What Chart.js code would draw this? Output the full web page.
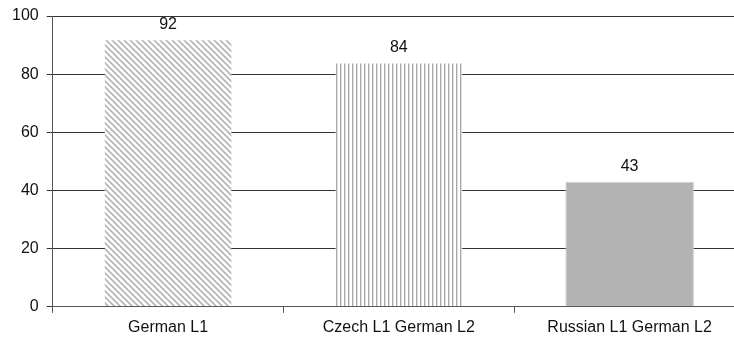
<!DOCTYPE html>
<html>
<head>
<meta charset="utf-8">
<script src="https://cdn.jsdelivr.net/npm/chart.js@4"></script>
<style>
  html,body{margin:0;padding:0;background:#fff;overflow:hidden;}
  #wrap{width:745px;height:344px;position:relative;}
</style>
</head>
<body>
<div id="wrap"><canvas id="c"></canvas></div>
<script>
// data
const categories = ["German L1", "Czech L1 German L2", "Russian L1 German L2"];
const values = [92, 84, 43];
const yTicks = [0, 20, 40, 60, 80, 100];

// hatch fills
function diagPattern(){
  const t = document.createElement('canvas'); t.width = 6; t.height = 6;
  const g = t.getContext('2d');
  g.fillStyle = '#fff'; g.fillRect(0,0,6,6);
  g.strokeStyle = '#b4b4b4'; g.lineWidth = 1.6;
  g.beginPath();
  g.moveTo(-1,-1); g.lineTo(7,7);
  g.moveTo(-7,-1); g.lineTo(1,7);
  g.moveTo(5,-1); g.lineTo(13,7);
  g.stroke();
  return g.createPattern(t,'repeat');
}
function vertPattern(){
  const t = document.createElement('canvas'); t.width = 4; t.height = 4;
  const g = t.getContext('2d');
  g.fillStyle = '#fff'; g.fillRect(0,0,4,4);
  g.fillStyle = '#a8a8a8'; g.fillRect(0,0,1,4);
  g.fillStyle = '#e0e0e0'; g.fillRect(1,0,1,4);
  return g.createPattern(t,'repeat');
}

const font = "'Liberation Sans', Arial, sans-serif";

// value labels above bars
const valueLabels = {
  id:'valueLabels',
  afterDatasetsDraw(chart){
    const ctx = chart.ctx;
    const meta = chart.getDatasetMeta(0);
    ctx.save();
    ctx.fillStyle = '#111';
    ctx.font = "16px " + font;
    ctx.textAlign = 'center';
    ctx.textBaseline = 'bottom';
    meta.data.forEach((bar,i)=>{
      ctx.fillText(String(values[i]), bar.x, bar.y - 7);
    });
    ctx.restore();
  }
};

new Chart(document.getElementById('c'), {
  type:'bar',
  data:{
    labels: categories,
    datasets:[{
      data: values,
      backgroundColor:[diagPattern(), vertPattern(), '#b3b3b3'],
      borderColor:['rgba(0,0,0,0)','rgba(0,0,0,0)','#d0d0d0'],
      borderWidth:1,
      barPercentage:0.557,
      categoryPercentage:1
    }]
  },
  options:{
    responsive:true,
    maintainAspectRatio:false,
    animation:false,
    layout:{padding:{top:3,left:4,right:0,bottom:2}},
    plugins:{legend:{display:false},tooltip:{enabled:false}},
    scales:{
      x:{
        grid:{display:true, offset:true, drawOnChartArea:false, drawTicks:true, tickLength:6, color:'#555'},
        border:{display:true, color:'#555', width:1},
        ticks:{color:'#111', font:{family:font, size:16}, padding:5, maxRotation:0}
      },
      y:{
        min:0, max:100,
        afterBuildTicks(axis){ axis.ticks = yTicks.map(v=>({value:v})); },
        grid:{color:'#333', lineWidth:1, tickLength:6, drawTicks:true},
        border:{display:true, color:'#555', width:1},
        ticks:{color:'#111', font:{family:font, size:16, lineHeight:1}, padding:8}
      }
    }
  },
  plugins:[valueLabels]
});
</script>
</body>
</html>
